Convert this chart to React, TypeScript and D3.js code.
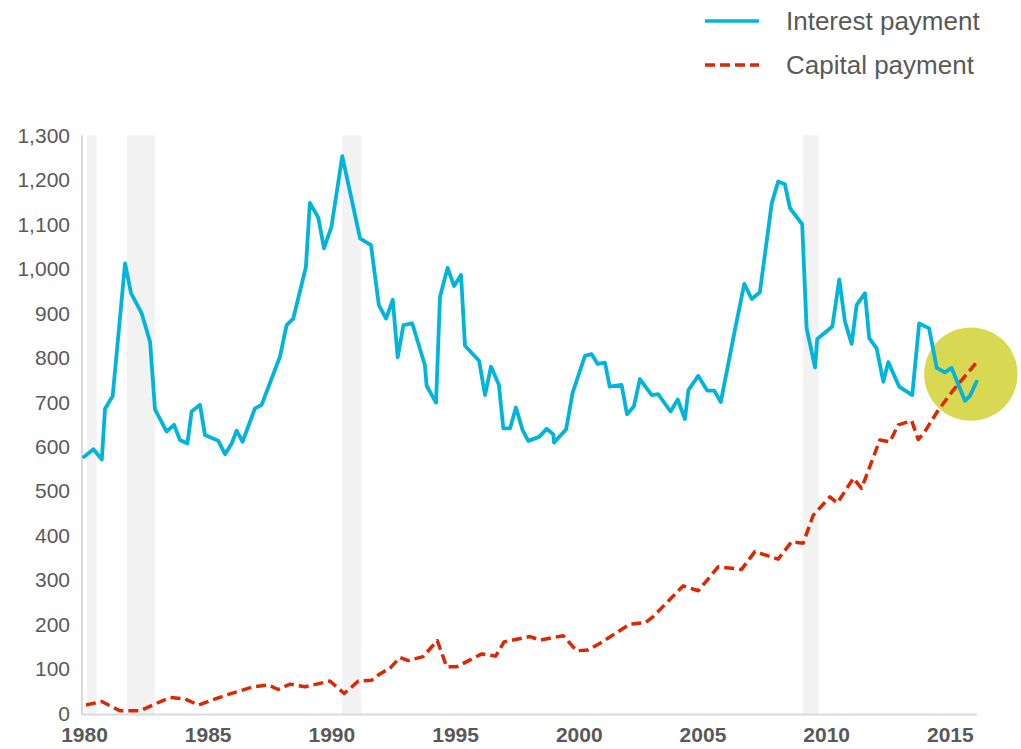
import React, { useEffect, useRef } from 'react';
import * as d3 from 'd3';

// Interest payment (year, value)
const interestYears = [
  1980.0, 1980.38, 1980.72, 1980.85, 1981.16, 1981.66, 1981.9, 1982.33, 1982.67, 1982.87,
  1983.34, 1983.64, 1983.88, 1984.18, 1984.35, 1984.69, 1984.89, 1985.43, 1985.7, 1985.97,
  1986.17, 1986.41, 1986.91, 1987.18, 1987.92, 1988.19, 1988.46, 1988.97, 1989.13, 1989.47,
  1989.7, 1990.0, 1990.44, 1991.16, 1991.6, 1991.92, 1992.21, 1992.48, 1992.68, 1992.91,
  1993.27, 1993.78, 1993.85, 1994.23, 1994.39, 1994.7, 1994.96, 1995.24, 1995.4, 1995.97,
  1996.21, 1996.45, 1996.77, 1996.95, 1997.22, 1997.46, 1997.73, 1997.96, 1998.4, 1998.7,
  1998.97, 1999.0, 1999.49, 1999.75, 2000.25, 2000.52, 2000.76, 2001.06, 2001.25, 2001.73,
  2001.95, 2002.23, 2002.47, 2002.95, 2003.21, 2003.71, 2004.0, 2004.29, 2004.43, 2004.83,
  2005.19, 2005.48, 2005.74, 2006.31, 2006.69, 2006.99, 2007.32, 2007.8, 2008.06, 2008.33,
  2008.54, 2009.03, 2009.21, 2009.55, 2009.64, 2010.25, 2010.53, 2010.76, 2011.03, 2011.23,
  2011.57, 2011.74, 2012.04, 2012.31, 2012.51, 2012.95, 2013.48, 2013.76, 2014.16, 2014.47,
  2014.8, 2015.07, 2015.61, 2015.81, 2016.08
];
const interestValues = [
  577, 594, 571, 685, 714, 1012, 945, 900, 836, 684,
  634, 649, 615, 607, 679, 694, 626, 613, 583, 607,
  636, 611, 686, 694, 802, 873, 888, 1004, 1148, 1115,
  1046, 1094, 1253, 1068, 1053, 918, 888, 930, 801, 873,
  877, 783, 737, 699, 937, 1002, 961, 986, 827, 793,
  716, 780, 739, 641, 641, 688, 637, 613, 622, 640,
  628, 609, 639, 721, 804, 808, 786, 789, 735, 739,
  673, 691, 752, 716, 718, 679, 706, 662, 727, 759,
  726, 726, 700, 862, 966, 932, 947, 1147, 1196, 1190,
  1136, 1100, 866, 778, 842, 870, 976, 881, 831, 918,
  945, 844, 821, 746, 790, 735, 716, 877, 866, 777,
  767, 777, 703, 714, 746
];

// Capital payment (year, value)
const capitalYears = [
  1980.08, 1980.72, 1981.46, 1982.26, 1982.94, 1983.48, 1984.08, 1984.62, 1985.16, 1985.9,
  1986.84, 1987.45, 1987.85, 1988.33, 1988.93, 1989.94, 1990.52, 1991.09, 1991.63, 1991.96,
  1992.37, 1992.77, 1993.11, 1993.71, 1994.28, 1994.66, 1995.06, 1996.08, 1996.64, 1996.98,
  1998.03, 1998.43, 1999.37, 1999.91, 2000.38, 2000.86, 2002.07, 2002.68, 2003.01, 2004.22,
  2004.83, 2005.64, 2006.58, 2007.12, 2008.06, 2008.6, 2009.07, 2009.48, 2010.15, 2010.45,
  2011.1, 2011.43, 2012.17, 2012.58, 2012.91, 2013.46, 2013.72, 2013.99, 2014.53, 2015.14,
  2016.12
];
const capitalValues = [
  19, 27, 6, 6, 23, 36, 33, 19, 30, 44,
  60, 64, 54, 66, 60, 73, 45, 73, 75, 89,
  102, 126, 119, 128, 164, 105, 105, 134, 129, 161,
  173, 165, 175, 141, 143, 158, 201, 204, 218, 287,
  276, 330, 324, 364, 347, 386, 383, 446, 487, 473,
  529, 506, 615, 611, 649, 658, 616, 634, 682, 727,
  792
];

// recession shading
const recessionStart = [1980.13, 1981.74, 1990.44, 2009.06];
const recessionEnd = [1980.51, 1982.87, 1991.21, 2009.7];

const yTicks = [0, 100, 200, 300, 400, 500, 600, 700, 800, 900, 1000, 1100, 1200, 1300];
const xTicks = [1980, 1985, 1990, 1995, 2000, 2005, 2010, 2015];

const seriesNames = ['Interest payment', 'Capital payment'];
const highlightPoint = { year: 2015.85, value: 763 };

const BLUE = '#00b4dc';
const RED = '#dc2800';
const GREY_TEXT = '#595959';
const FONT = '"Liberation Sans", Arial, sans-serif';

const App = () => {
  const svgRef = useRef<SVGSVGElement>(null);
  const width = 1021;
  const height = 749;

  useEffect(() => {
    const svg = d3.select(svgRef.current);
    svg.selectAll('*').remove();

    const x = d3.scaleLinear().domain([1980, 2016]).range([84, 974.6]);
    const y = d3.scaleLinear().domain([0, 1300]).range([713.5, 135.3]);

    // bandas de recesión
    svg.append('g')
      .selectAll('rect')
      .data(recessionStart)
      .enter()
      .append('rect')
      .attr('x', d => x(d))
      .attr('width', (d, i) => x(recessionEnd[i]) - x(d))
      .attr('y', y(1300))
      .attr('height', y(0) - y(1300))
      .attr('fill', '#f2f2f2');

    // ejes
    svg.append('line')
      .attr('x1', 82).attr('x2', 82)
      .attr('y1', y(1300)).attr('y2', y(0) + 1)
      .attr('stroke', '#d9d9d9').attr('stroke-width', 2);
    svg.append('line')
      .attr('x1', 81).attr('x2', 977)
      .attr('y1', y(0) + 1).attr('y2', y(0) + 1)
      .attr('stroke', '#d9d9d9').attr('stroke-width', 2);

    svg.append('g')
      .selectAll('text')
      .data(yTicks)
      .enter()
      .append('text')
      .attr('x', 70)
      .attr('y', d => y(d))
      .attr('dy', '0.35em')
      .attr('text-anchor', 'end')
      .attr('font-family', FONT)
      .attr('font-size', 21)
      .attr('fill', GREY_TEXT)
      .text(d => d3.format(',')(d));

    svg.append('g')
      .selectAll('text')
      .data(xTicks)
      .enter()
      .append('text')
      .attr('x', d => x(d) + 0.5)
      .attr('y', 741.5)
      .attr('text-anchor', 'middle')
      .attr('font-family', FONT)
      .attr('font-size', 21)
      .attr('font-weight', 'bold')
      .attr('fill', GREY_TEXT)
      .text(d => d);

    // círculo resaltado
    svg.append('circle')
      .attr('cx', x(highlightPoint.year))
      .attr('cy', y(highlightPoint.value))
      .attr('r', 46.7)
      .attr('fill', '#d9d852');

    const line = d3.line<[number, number]>()
      .x(d => x(d[0]))
      .y(d => y(d[1]));

    const capital = capitalYears.map((t, i) => [t, capitalValues[i]] as [number, number]);
    const interest = interestYears.map((t, i) => [t, interestValues[i]] as [number, number]);

    svg.append('path')
      .attr('d', line(capital))
      .attr('fill', 'none')
      .attr('stroke', RED)
      .attr('stroke-width', 3.5)
      .attr('stroke-dasharray', '10,5')
      .attr('stroke-linejoin', 'round');

    svg.append('path')
      .attr('d', line(interest))
      .attr('fill', 'none')
      .attr('stroke', BLUE)
      .attr('stroke-width', 3.8)
      .attr('stroke-linejoin', 'round')
      .attr('stroke-linecap', 'round');

    // leyenda
    const legend = svg.append('g');
    seriesNames.forEach((name, i) => {
      const row = legend.append('g').attr('transform', `translate(0, ${21 + i * 44})`);
      row.append('line')
        .attr('x1', 705).attr('x2', 759)
        .attr('y1', 0).attr('y2', 0)
        .attr('stroke', i === 0 ? BLUE : RED)
        .attr('stroke-width', 3.5)
        .attr('stroke-dasharray', i === 0 ? null : '10,5');
      row.append('text')
        .attr('x', 786)
        .attr('y', 0)
        .attr('dy', '0.35em')
        .attr('font-family', FONT)
        .attr('font-size', 26)
        .attr('fill', GREY_TEXT)
        .text(name);
    });
  }, []);

  return (
    <svg
      ref={svgRef}
      width={width}
      height={height}
      style={{ position: 'absolute', left: 0, top: 0, background: '#fff' }}
    />
  );
};

export default App;
